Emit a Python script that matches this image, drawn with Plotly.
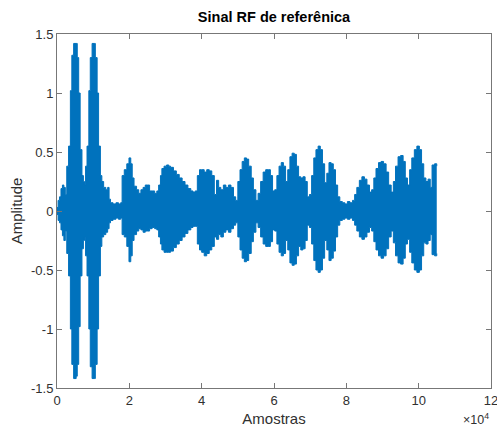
import plotly.graph_objects as go

# Envelope of the reference RF signal (sample index in thousands, upper and lower amplitude)
samples_k = [
    0.0, 0.3, 0.7, 1.1, 1.5, 1.9, 2.3, 2.7, 3.2, 3.7, 4.1, 4.6, 5.3, 5.6, 6.0, 6.4, 6.9, 7.3, 7.6,
    7.9, 8.3, 8.8, 9.2, 9.7, 10.3, 10.6, 11.1, 11.5, 12.0, 12.4, 12.9, 13.5, 14.0, 14.4, 14.8,
    15.5, 16.3, 17.0, 17.6, 18.0, 18.6, 19.3, 19.9, 20.4, 20.8, 21.3, 22.0, 22.6, 23.2, 23.8,
    24.4, 25.0, 25.6, 26.3, 27.0, 27.6, 28.1, 28.6, 29.0, 29.6, 30.3, 30.9, 31.4, 32.2, 33.0,
    33.8, 34.6, 35.4, 36.2, 37.0, 37.6, 38.2, 38.8, 39.4, 40.0, 40.7, 41.4, 42.1, 42.8, 43.5,
    44.1, 44.7, 45.3, 46.0, 46.7, 47.4, 48.1, 48.8, 49.4, 50.0, 50.6, 51.2, 51.8, 52.4, 53.0,
    53.7, 54.3, 55.0, 55.6, 56.3, 57.0, 57.7, 58.4, 59.0, 59.6, 60.2, 60.8, 61.4, 62.0, 62.6,
    63.2, 63.8, 64.4, 65.0, 65.6, 66.2, 66.8, 67.4, 68.0, 68.6, 69.2, 69.8, 70.4, 71.0, 71.6,
    72.2, 72.8, 73.4, 74.0, 74.6, 75.2, 75.8, 76.4, 77.0, 77.6, 78.2, 78.9, 79.6, 80.3, 81.0,
    81.7, 82.3, 82.9, 83.6, 84.3, 85.0, 85.7, 86.4, 87.0, 87.6, 88.2, 88.9, 89.6, 90.3, 91.0,
    91.7, 92.4, 93.0, 93.6, 94.3, 95.0, 95.7, 96.3, 96.9, 97.5, 98.1, 98.8, 99.5, 100.2, 100.8,
    101.4, 102.0, 102.6, 103.2, 103.7, 104.4, 105.0,
]
upper = [
    0.03, 0.09, 0.12, 0.19, 0.22, 0.20, 0.14, 0.38, 0.55, 1.02, 1.32, 1.42, 1.42, 1.30, 1.00, 0.52, 0.30, 0.25, 0.22,
    0.38, 0.55, 1.02, 1.30, 1.42, 1.42, 1.30, 1.00, 0.55, 0.30, 0.25, 0.20, 0.18, 0.20, 0.10, 0.07,
    0.06, 0.07, 0.06, 0.07, 0.30, 0.35, 0.40, 0.45, 0.40, 0.28, 0.21, 0.18, 0.15, 0.18, 0.20,
    0.22, 0.22, 0.17, 0.17, 0.15, 0.17, 0.22, 0.30, 0.36, 0.38, 0.39, 0.38, 0.37, 0.34, 0.31,
    0.28, 0.25, 0.22, 0.19, 0.17, 0.16, 0.17, 0.30, 0.35, 0.35, 0.33, 0.35, 0.34, 0.30, 0.14,
    0.26, 0.20, 0.18, 0.22, 0.20, 0.22, 0.20, 0.12, 0.09, 0.25, 0.35, 0.42, 0.45, 0.44, 0.38,
    0.28, 0.18, 0.09, 0.15, 0.25, 0.33, 0.35, 0.35, 0.30, 0.17, 0.18, 0.30, 0.38, 0.41, 0.38,
    0.25, 0.35, 0.46, 0.49, 0.48, 0.38, 0.29, 0.28, 0.29, 0.25, 0.12, 0.14, 0.30, 0.45, 0.52,
    0.55, 0.52, 0.40, 0.24, 0.32, 0.41, 0.40, 0.35, 0.22, 0.12, 0.08, 0.07, 0.06, 0.08, 0.07,
    0.09, 0.14, 0.20, 0.26, 0.29, 0.27, 0.22, 0.16, 0.18, 0.28, 0.36, 0.41, 0.42, 0.40, 0.33,
    0.22, 0.16, 0.25, 0.38, 0.46, 0.47, 0.42, 0.28, 0.22, 0.35, 0.45, 0.52, 0.55, 0.52, 0.40,
    0.28, 0.25, 0.27, 0.20, 0.39, 0.40, 0.38,
]
lower = [
    -0.03, -0.08, -0.10, -0.16, -0.21, -0.25, -0.17, -0.36, -0.55, -1.00, -1.30, -1.42, -1.40, -1.30, -0.98, -0.55, -0.32, -0.25, -0.22,
    -0.38, -0.55, -1.00, -1.32, -1.42, -1.42, -1.30, -1.00, -0.55, -0.30, -0.22, -0.20, -0.18, -0.15, -0.10, -0.08,
    -0.07, -0.06, -0.07, -0.06, -0.20, -0.22, -0.30, -0.43, -0.38, -0.25, -0.20, -0.17, -0.15, -0.16, -0.18,
    -0.17, -0.17, -0.15, -0.14, -0.15, -0.16, -0.22, -0.28, -0.33, -0.35, -0.35, -0.35, -0.34, -0.31, -0.28,
    -0.25, -0.22, -0.19, -0.16, -0.14, -0.13, -0.13, -0.28, -0.33, -0.35, -0.38, -0.36, -0.33, -0.30, -0.22,
    -0.24, -0.20, -0.22, -0.18, -0.16, -0.18, -0.15, -0.12, -0.10, -0.22, -0.33, -0.40, -0.43, -0.42, -0.36,
    -0.26, -0.18, -0.10, -0.14, -0.22, -0.28, -0.30, -0.30, -0.26, -0.16, -0.17, -0.28, -0.35, -0.38, -0.36,
    -0.25, -0.33, -0.44, -0.46, -0.45, -0.38, -0.30, -0.33, -0.32, -0.25, -0.12, -0.14, -0.28, -0.42, -0.50,
    -0.52, -0.50, -0.40, -0.25, -0.33, -0.42, -0.40, -0.34, -0.22, -0.12, -0.08, -0.07, -0.06, -0.07, -0.06,
    -0.08, -0.12, -0.17, -0.22, -0.24, -0.22, -0.18, -0.14, -0.17, -0.26, -0.33, -0.38, -0.40, -0.38, -0.32,
    -0.22, -0.17, -0.27, -0.38, -0.44, -0.45, -0.40, -0.28, -0.24, -0.35, -0.44, -0.50, -0.52, -0.50, -0.38,
    -0.27, -0.28, -0.25, -0.20, -0.37, -0.38, -0.36,
]
x_ticks = [0, 2, 4, 6, 8, 10, 12]
y_ticks = [-1.5, -1, -0.5, 0, 0.5, 1, 1.5]

BLUE = "#0072BD"
AXIS = "#777777"
TEXT = "#303030"
FONT = "Liberation Sans, Arial, sans-serif"

xs = [v * 1000 for v in samples_k]  # thousands of samples -> samples

fig = go.Figure()
fig.add_trace(go.Scatter(
    x=xs, y=lower, mode="lines",
    line=dict(color=BLUE, width=1, shape="hv"),
    hoverinfo="skip", showlegend=False,
))
fig.add_trace(go.Scatter(
    x=xs, y=upper, mode="lines", fill="tonexty", fillcolor=BLUE,
    line=dict(color=BLUE, width=1, shape="hv"),
    showlegend=False,
))

axis_common = dict(
    showline=True, linecolor=AXIS, linewidth=1, mirror="ticks",
    ticks="inside", ticklen=5, tickcolor=AXIS, tickwidth=1,
    showgrid=False, zeroline=False, automargin=False,
    tickfont=dict(family=FONT, size=13, color=TEXT),
)

fig.update_layout(
    width=497, height=429,
    margin=dict(l=57, r=6, t=34, b=41, autoexpand=False),
    paper_bgcolor="white", plot_bgcolor="white",
    font=dict(family=FONT, color=TEXT),
    title=dict(
        text="<b>Sinal RF de referênica</b>",
        x=0.5, xref="paper", xanchor="center",
        y=1 - 17 / 429, yanchor="middle",
        font=dict(family=FONT, size=14.5, color="#000000"),
    ),
    xaxis=dict(
        range=[0, 120000],
        tickvals=[t * 1e4 for t in x_ticks],
        ticktext=[str(t) for t in x_ticks],
        ticklabeloverflow="allow",
        title=dict(text="Amostras", font=dict(family=FONT, size=15, color=TEXT), standoff=6),
        **axis_common,
    ),
    yaxis=dict(
        range=[-1.5, 1.5],
        tickvals=y_ticks,
        ticktext=[("%g" % t) for t in y_ticks],
        title=dict(text="Amplitude", font=dict(family=FONT, size=15, color=TEXT), standoff=4),
        **axis_common,
    ),
    annotations=[dict(
        text="×10<sup>4</sup>", xref="paper", yref="paper",
        x=1.0, y=-0.088, xanchor="right", yanchor="middle",
        showarrow=False, font=dict(family=FONT, size=12.5, color=TEXT),
    )],
)

fig.write_html("out.html")
